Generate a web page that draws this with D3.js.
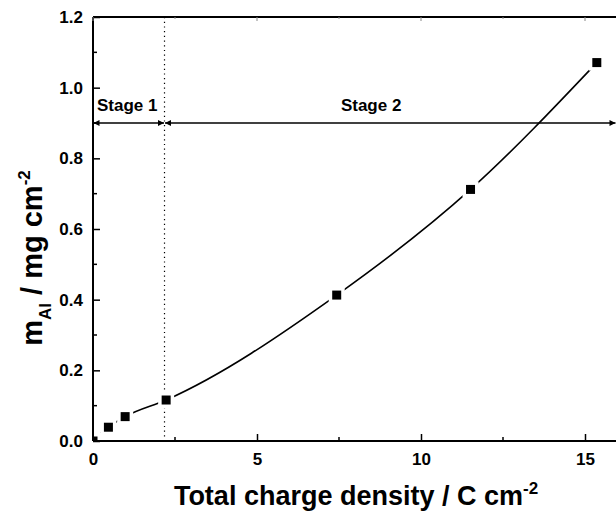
<!DOCTYPE html>
<html><head><meta charset="utf-8">
<script src="https://cdn.jsdelivr.net/npm/d3@7"></script>
<style>body{margin:0;background:#fff}svg{display:block}text{font-family:"Liberation Sans",Arial,sans-serif;font-weight:bold;fill:#000}</style>
</head><body>
<script>
const chargeDensity = [0, 0.47, 0.98, 2.23, 7.43, 11.51, 15.36];
const massAl = [0, 0.039, 0.069, 0.116, 0.413, 0.712, 1.071];
const xTicks = [0, 5, 10, 15];
const yTicks = [0.0, 0.2, 0.4, 0.6, 0.8, 1.0, 1.2];
const stageBoundary = 2.18;
const stageLevel = 0.9;
const stageLabels = ["Stage 1", "Stage 2"];

const W = 616, H = 519;
const svg = d3.select("body").append("svg").attr("width", W).attr("height", H);
const x = d3.scaleLinear().domain([0, 16]).range([93, 617.8]);
const y = d3.scaleLinear().domain([0, 1.2]).range([441, 17]);

svg.append("defs").append("clipPath").attr("id", "plot")
  .append("rect").attr("x", x(0)).attr("y", y(1.2)).attr("width", W - x(0)).attr("height", y(0) - y(1.2));

// axes
const xAxis = d3.axisBottom(x).tickValues(xTicks).tickSize(-7).tickPadding(12).tickFormat(d3.format("d"));
const gx = svg.append("g").attr("transform", `translate(0,${y(0)})`).call(xAxis);
const yAxis = d3.axisLeft(y).tickValues(yTicks).tickSize(-7).tickPadding(10).tickFormat(d3.format(".1f"));
const gy = svg.append("g").attr("transform", `translate(${x(0)},0)`).call(yAxis);
[gx, gy].forEach(g => {
  g.select(".domain").attr("stroke", "#000").attr("stroke-width", 2);
  g.selectAll(".tick line").attr("stroke", "#000").attr("stroke-width", 1.5);
  g.selectAll(".tick text").style("font-size", "17px").style("font-family", "Liberation Sans, Arial, sans-serif").style("font-weight", "bold");
});
gx.select(".domain").attr("d", `M${x(0)},0H${W}`);
gy.select(".domain").attr("d", `M0,${y(1.2)}V${y(0)}`);

// minor ticks
const xMinor = [2.5, 7.5, 12.5];
const yMinor = [0.1, 0.3, 0.5, 0.7, 0.9, 1.1];
svg.append("g").selectAll("line").data(xMinor).join("line")
  .attr("x1", d => x(d)).attr("x2", d => x(d)).attr("y1", y(0)).attr("y2", y(0) - 4)
  .attr("stroke", "#000").attr("stroke-width", 1.5);
svg.append("g").selectAll("line").data(yMinor).join("line")
  .attr("x1", x(0)).attr("x2", x(0) + 4).attr("y1", d => y(d)).attr("y2", d => y(d))
  .attr("stroke", "#000").attr("stroke-width", 1.5);

// top frame
svg.append("line").attr("x1", x(0)).attr("x2", W).attr("y1", y(1.2)).attr("y2", y(1.2))
  .attr("stroke", "#000").attr("stroke-width", 2);
svg.append("g").selectAll("line").data(xTicks.concat(xMinor)).join("line")
  .attr("x1", d => x(d)).attr("x2", d => x(d)).attr("y1", y(1.2)).attr("y2", d => y(1.2) + (xTicks.includes(d) ? 4 : 2))
  .attr("stroke", "#888").attr("stroke-width", 1);

// dotted stage boundary
svg.append("line").attr("x1", x(stageBoundary)).attr("x2", x(stageBoundary)).attr("y1", y(1.2)).attr("y2", y(0))
  .attr("stroke", "#000").attr("stroke-width", 1.2).attr("stroke-dasharray", "1.2,3.5");

// arrows
const defs = svg.select("defs");
defs.append("marker").attr("id", "ah").attr("viewBox", "0 0 10 10").attr("refX", 10).attr("refY", 5)
  .attr("markerWidth", 9).attr("markerHeight", 6).attr("markerUnits", "userSpaceOnUse").attr("orient", "auto-start-reverse")
  .append("path").attr("d", "M0,0L10,5L0,10Z").attr("fill", "#000");
const arrows = [[0, stageBoundary], [stageBoundary, 16]];
svg.append("g").selectAll("line").data(arrows).join("line")
  .attr("x1", d => x(d[0]) + 0.5).attr("x2", d => Math.min(x(d[1]), W) - 0.5)
  .attr("y1", y(stageLevel)).attr("y2", y(stageLevel))
  .attr("stroke", "#000").attr("stroke-width", 1.5)
  .attr("marker-start", "url(#ah)").attr("marker-end", "url(#ah)");
svg.append("text").attr("x", x(0) + 4).attr("y", y(stageLevel) - 12).style("font-size", "17px").text(stageLabels[0]);
svg.append("text").attr("x", x(8.48)).attr("y", y(stageLevel) - 12).style("font-size", "17px").attr("text-anchor", "middle").text(stageLabels[1]);

// curve
const pts = chargeDensity.map((d, i) => [d, massAl[i]]);
const line = d3.line().x(d => x(d[0])).y(d => y(d[1])).curve(d3.curveMonotoneX);
svg.append("path").attr("d", line(pts)).attr("fill", "none").attr("stroke", "#000").attr("stroke-width", 1.6);

// marker gaps then markers
const ms = 9;
const mk = svg.append("g").attr("clip-path", "url(#plot)");
mk.append("g").selectAll("rect").data(pts).join("rect")
  .attr("x", d => x(d[0]) - 8).attr("y", d => y(d[1]) - 8).attr("width", 16).attr("height", 16).attr("fill", "#fff");
mk.append("g").selectAll("rect").data(pts).join("rect")
  .attr("x", d => x(d[0]) - ms / 2).attr("y", d => y(d[1]) - ms / 2).attr("width", ms).attr("height", ms).attr("fill", "#000");
// redraw axis lines over origin gap
svg.append("line").attr("x1", x(0)).attr("x2", x(0) + 20).attr("y1", y(0)).attr("y2", y(0)).attr("stroke", "#000").attr("stroke-width", 2);
svg.append("line").attr("x1", x(0)).attr("x2", x(0)).attr("y1", y(0)).attr("y2", y(0) - 20).attr("stroke", "#000").attr("stroke-width", 2);

// axis titles
const xt = svg.append("text").attr("x", 356).attr("y", 505).attr("text-anchor", "middle").style("font-size", "27px");
xt.append("tspan").text("Total charge density / C cm");
xt.append("tspan").attr("dy", -11).style("font-size", "17px").text("-2");

const yt = svg.append("text").attr("transform", "translate(42,258) rotate(-90)").attr("text-anchor", "middle").style("font-size", "29px");
yt.append("tspan").text("m");
yt.append("tspan").attr("dy", 9).style("font-size", "17px").text("Al");
yt.append("tspan").attr("dy", -9).text(" / mg cm");
yt.append("tspan").attr("dy", -12).style("font-size", "17px").text("-2");
</script>
</body></html>
